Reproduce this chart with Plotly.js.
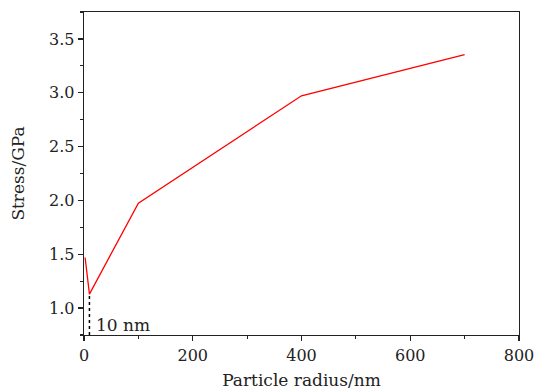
<!DOCTYPE html>
<html><head><meta charset="utf-8">
<script src="https://cdn.plot.ly/plotly-3.0.1.min.js"></script>
<style>html,body{margin:0;padding:0;background:#fff;}#chart{width:539px;height:390px;}</style>
</head><body><div id="chart"></div>
<script>
const radius = [2, 10, 100, 400, 700];
const stress = [1.47, 1.13, 1.975, 2.972, 3.355];
const markX = [10, 10];
const markY = [0.75, 1.13];
const markLabel = "10 nm";
const xTitle = "Particle radius/nm";
const yTitle = "Stress/GPa";

const tickFont = {family: "DejaVu Serif", size: 16, color: "#222"};
const titleFont = {family: "DejaVu Serif", size: 17, color: "#222"};
const traces = [
  {x: radius, y: stress, mode: "lines", line: {color: "#ff0000", width: 1.3}, hoverinfo: "skip"},
  {x: markX, y: markY, mode: "lines", line: {color: "#000", width: 1.5, dash: "dot"}, hoverinfo: "skip"}
];
const layout = {
  width: 539, height: 390,
  margin: {l: 84, r: 20, t: 12, b: 55},
  showlegend: false,
  paper_bgcolor: "#fff", plot_bgcolor: "#fff",
  font: tickFont,
  xaxis: {
    range: [0, 800], tickvals: [0, 200, 400, 600, 800],
    ticks: "outside", ticklen: 5, tickwidth: 1.2, tickcolor: "#222",
    minor: {dtick: 100, tick0: 0, ticks: "outside", ticklen: 3, tickcolor: "#222", showgrid: false},
    showline: true, linecolor: "#222", linewidth: 1.3, mirror: true,
    showgrid: false, zeroline: false,
    title: {text: xTitle, font: titleFont, standoff: 10},
    tickfont: tickFont
  },
  yaxis: {
    range: [0.75, 3.75], tickvals: [1.0, 1.5, 2.0, 2.5, 3.0, 3.5], ticktext: ["1.0","1.5","2.0","2.5","3.0","3.5"],
    ticks: "outside", ticklen: 5, tickwidth: 1.2, tickcolor: "#222",
    minor: {dtick: 0.25, tick0: 0.75, ticks: "outside", ticklen: 3, tickcolor: "#222", showgrid: false},
    showline: true, linecolor: "#222", linewidth: 1.3, mirror: true,
    showgrid: false, zeroline: false,
    title: {text: yTitle, font: titleFont, standoff: 20},
    tickfont: tickFont
  },
  annotations: [{x: 18, y: 0.845, xref: "x", yref: "y", text: markLabel, showarrow: false, xanchor: "left", yanchor: "middle", font: titleFont}]
};
Plotly.newPlot("chart", traces, layout, {displayModeBar: false, staticPlot: true});
</script></body></html>
